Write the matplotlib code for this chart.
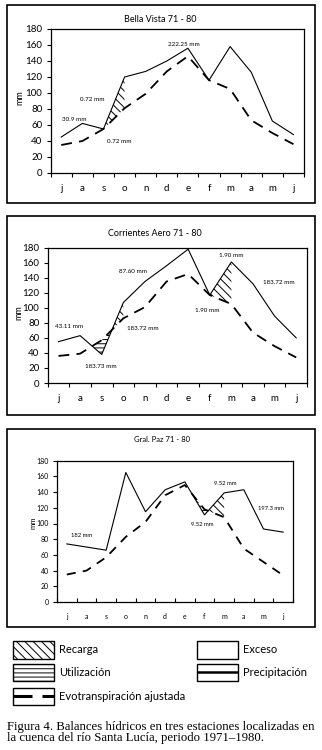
"""
Balances hídricos - Bella Vista / Corrientes Aero / Gral. Paz (1971-1980)
"""
import numpy as np
import matplotlib
matplotlib.use('Agg')
import matplotlib.pyplot as plt
from matplotlib.patches import Rectangle

plt.rcParams['font.family'] = ['Lato', 'DejaVu Sans']
plt.rcParams['hatch.linewidth'] = 0.7

W, H = 322, 750

MONTHS  = ['j', 'a', 's', 'o', 'n', 'd', 'e', 'f', 'm', 'a', 'm', 'j']
Y_TICKS = list(range(0, 181, 20))

# Bella Vista 71 - 80
BV_PRECIP = [45, 62, 55, 120, 127, 140, 156, 116, 158, 126, 65, 48]
BV_ETR    = [35, 40, 55, 81, 99, 127, 146, 116, 105, 66, 50, 36]
BV_RECARGA = [(2, 3)]
BV_UTIL    = []
BV_NOTES = [(0.6, 67, '30.9 mm'), (1.45, 92, '0.72 mm'),
            (2.75, 39, '0.72 mm'), (5.8, 161, '222.25 mm')]

# Corrientes Aero 71 - 80
CA_PRECIP = [55, 63, 38, 107, 135, 156, 178, 117, 161, 132, 89, 60]
CA_ETR    = [36, 39, 57, 86, 101, 135, 145, 117, 105, 67, 49, 34]
CA_RECARGA = [(2, 3), (7, 8)]
CA_UTIL    = [(1, 3)]
CA_NOTES = [(0.5, 75, '43.11 mm'), (1.95, 22, '183.73 mm'),
            (3.43, 149, '87.60 mm'), (3.9, 73, '183.72 mm'),
            (8.0, 170, '1.90 mm'), (6.88, 96, '1.90 mm'),
            (10.2, 134, '183.72 mm')]

# Gral. Paz 71 - 80
GP_PRECIP = [74, 70, 66, 165, 115, 143, 153, 111, 139, 143, 93, 89]
GP_ETR    = [35, 40, 57, 83, 102, 136, 149, 118, 108, 68, 51, 34]
GP_RECARGA = [(7, 8)]
GP_UTIL    = [(6, 8)]
GP_NOTES = [(0.77, 85, '182 mm'), (8.04, 151, '9.52 mm'),
            (6.9, 99, '9.52 mm'), (10.36, 119, '197.3 mm')]


def px_axes(fig, x0, y0, x1, y1):
    """pixel box (arriba-izq origen) -> axes"""
    return fig.add_axes([x0 / W, 1 - y1 / H, (x1 - x0) / W, (y1 - y0) / H])


def hatch_span(ax, x, precip, etr, span, kind):
    xf = np.linspace(span[0], span[1], 300)
    pf = np.interp(xf, x, precip)
    ef = np.interp(xf, x, etr)
    if kind == 'recarga':
        mask, hatch = pf >= ef, '\\\\\\\\'
    else:
        mask, hatch = ef >= pf, '----'
    ax.fill_between(xf, pf, ef, where=mask, interpolate=True,
                    facecolor='none', edgecolor='black', hatch=hatch, linewidth=0)


def plot_station(ax, precip, etr, recarga, util, notes, fs=7, note_fs=4.5,
                 xtick_dir='out', dash=(6, 4)):
    x = np.arange(len(MONTHS))
    ax.plot(x, precip, color='black', linewidth=0.8)
    ax.plot(x, etr, color='black', linewidth=1.3, dashes=dash)
    for sp in recarga:
        hatch_span(ax, x, precip, etr, sp, 'recarga')
    for sp in util:
        hatch_span(ax, x, precip, etr, sp, 'util')
    for nx, ny, txt in notes:
        ax.text(nx, ny, txt, ha='center', va='center', fontsize=note_fs)

    ax.set_xlim(-0.5, len(MONTHS) - 0.5)
    ax.set_ylim(0, 180)
    ax.set_yticks(Y_TICKS)
    ax.set_xticks(np.arange(-0.5, len(MONTHS)), minor=False)
    ax.set_xticklabels([])
    ax.set_xticks(x, minor=True)
    ax.set_xticklabels(MONTHS, minor=True, fontsize=fs)
    ax.tick_params(axis='x', which='major', direction=xtick_dir, length=3, width=0.8)
    ax.tick_params(axis='x', which='minor', length=0, pad=8)
    ax.tick_params(axis='y', length=3, width=0.8, labelsize=fs, pad=3)
    for sp in ax.spines.values():
        sp.set_linewidth(0.9)


fig = plt.figure(figsize=(W / 100, H / 100), dpi=100)

# capa en pixeles para marcos, titulos, leyenda y pie
ov = fig.add_axes([0, 0, 1, 1])
ov.set_xlim(0, W); ov.set_ylim(H, 0); ov.axis('off')

for y0, y1 in [(5, 203), (216, 415), (429, 627)]:
    ov.add_patch(Rectangle((7, y0), 308, y1 - y0, fill=False, lw=1.2, ec='black'))

ov.text(160, 19, 'Bella Vista 71 - 80', ha='center', va='center', fontsize=6.5)
ov.text(155, 234, 'Corrientes Aero 71 - 80', ha='center', va='center', fontsize=6.5)
ov.text(162, 440, 'Gral. Paz 71 - 80', ha='center', va='center', fontsize=5.5)
ov.text(20, 98, 'mm', rotation=90, ha='center', va='center', fontsize=6.5)
ov.text(19, 313, 'mm', rotation=90, ha='center', va='center', fontsize=6.5)
ov.text(33, 523, 'mm', rotation=90, ha='center', va='center', fontsize=5.5)

ax1 = px_axes(fig, 50.7, 29, 304, 173)
plot_station(ax1, BV_PRECIP, BV_ETR, BV_RECARGA, BV_UTIL, BV_NOTES)

ax2 = px_axes(fig, 47.7, 247.7, 307, 383)
plot_station(ax2, CA_PRECIP, CA_ETR, CA_RECARGA, CA_UTIL, CA_NOTES)

ax3 = px_axes(fig, 57, 460.7, 293, 602)
plot_station(ax3, GP_PRECIP, GP_ETR, GP_RECARGA, GP_UTIL, GP_NOTES,
             fs=5, note_fs=4.2, xtick_dir='in', dash=(5, 4))

# leyenda
ov.add_patch(Rectangle((13, 641), 41, 17.5, fill=False, lw=1, ec='black', hatch='\\\\\\\\'))
ov.add_patch(Rectangle((13, 663.5), 41, 17.5, fill=False, lw=1, ec='black', hatch='----'))
ov.add_patch(Rectangle((13, 687.5), 41, 17.5, fill=False, lw=1, ec='black'))
ov.plot([13, 32], [696, 696], color='black', lw=2.2, solid_capstyle='butt')
ov.plot([42, 54], [696, 696], color='black', lw=2.2, solid_capstyle='butt')
ov.add_patch(Rectangle((197, 641), 41, 17.5, fill=False, lw=1, ec='black'))
ov.add_patch(Rectangle((197, 663.5), 41, 17.5, fill=False, lw=1, ec='black'))
ov.plot([197, 238], [672, 672], color='black', lw=1.8, solid_capstyle='butt')

ov.text(59, 649.5, 'Recarga', va='center', fontsize=8)
ov.text(59, 672, 'Utilización', va='center', fontsize=8)
ov.text(59, 697, 'Evotranspiración ajustada', va='center', fontsize=8)
ov.text(243, 649.5, 'Exceso', va='center', fontsize=8)
ov.text(243, 672, 'Precipitación', va='center', fontsize=8)

ov.text(7, 727, 'Figura 4. Balances hídricos en tres estaciones localizadas en',
        va='center', fontsize=9.2, family='Liberation Serif')
ov.text(7, 738.5, 'la cuenca del río Santa Lucía, periodo 1971\u20131980.',
        va='center', fontsize=9.2, family='Liberation Serif')

fig.savefig('out.png', dpi=100)
plt.close()
